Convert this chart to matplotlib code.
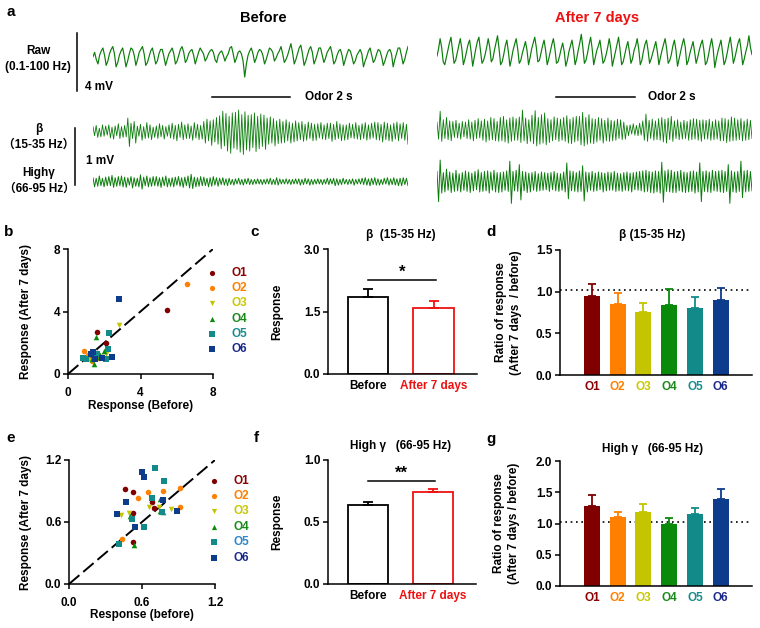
import numpy as np
import matplotlib
matplotlib.use("Agg")
import matplotlib.pyplot as plt
from matplotlib.transforms import blended_transform_factory

plt.rcParams['font.family'] = ['Liberation Sans', 'Noto Sans CJK SC', 'DejaVu Sans']
plt.rcParams['font.weight'] = 'bold'
plt.rcParams['axes.labelweight'] = 'bold'
plt.rcParams['axes.linewidth'] = 1.1

# ---------------- data ----------------
odors = ['O1', 'O2', 'O3', 'O4', 'O5', 'O6']
odor_colors = ['#800000', '#ff8000', '#c4c400', '#0a8a0a', '#138a8a', '#0d3c8c']
label_colors_b = ['#8b0000', '#ff8000', '#c8c800', '#1a8a1a', '#1a8c8c', '#1c2a8c']
label_colors_e = ['#8b0000', '#ff8000', '#c8c800', '#1a8a1a', '#2f86c9', '#1c2a8c']
odor_markers = ['o', 'o', 'v', '^', 's', 's']

# panel b: beta response, before vs after 7 days (one list per odor)
b_before = [[1.58, 2.12, 5.47, 1.6, 1.2, 1.9],
            [0.9, 6.54, 1.3, 1.1, 1.7, 1.45],
            [2.84, 1.75, 1.4, 1.2, 2.1, 1.0],
            [1.54, 1.45, 1.55, 2.0, 1.3, 1.75],
            [2.24, 2.22, 0.8, 1.0, 2.1, 1.6],
            [2.8, 2.41, 1.4, 1.5, 1.25, 1.9]]
b_after = [[2.69, 1.97, 4.1, 1.35, 1.0, 1.1],
           [1.45, 5.75, 0.85, 1.2, 1.05, 1.3],
           [3.16, 1.0, 1.1, 0.9, 1.25, 1.05],
           [2.39, 0.64, 1.1, 1.45, 0.95, 1.2],
           [2.63, 1.62, 1.0, 0.95, 0.95, 1.25],
           [4.79, 1.07, 1.4, 0.95, 1.25, 1.05]]

# panel e: high gamma response
e_before = [[0.461, 0.522, 0.679, 0.698, 0.527, 0.527],
            [0.65, 0.775, 0.912, 0.912, 0.569, 0.437],
            [0.659, 0.835, 0.494, 0.428, 0.74],
            [0.747, 0.775, 0.5, 0.532, 0.745],
            [0.706, 0.78, 0.679, 0.514, 0.618, 0.407, 0.761],
            [0.596, 0.615, 0.467, 0.395, 0.544, 0.885, 0.769]]
e_after = [[0.923, 0.894, 0.791, 0.739, 0.684, 0.41],
           [0.887, 0.9, 0.932, 0.745, 0.83, 0.44],
           [0.742, 0.723, 0.69, 0.665, 0.745],
           [0.82, 0.7, 0.658, 0.377, 0.71],
           [1.126, 1.0, 0.83, 0.626, 0.555, 0.39, 0.7],
           [1.081, 1.036, 0.79, 0.675, 0.549, 0.707, 0.813]]

groups = ['Before', 'After 7 days']
beta_mean = [1.86, 1.575]
beta_sem = [0.19, 0.185]
gamma_mean = [0.638, 0.743]
gamma_sem = [0.024, 0.024]

beta_ratio = [0.948, 0.852, 0.76, 0.836, 0.808, 0.896]
beta_ratio_sem = [0.14, 0.136, 0.104, 0.196, 0.132, 0.152]
gamma_ratio = [1.28, 1.099, 1.179, 0.997, 1.157, 1.387]
gamma_ratio_sem = [0.17, 0.085, 0.133, 0.096, 0.091, 0.16]

# example traces, 8 s each
raw_before = [  # 0.1 mV units
    0, 3, -2, -5, 1, 4, 6, 1, -6, -3, 2, 5, 7, 2, -7, -4, 1, 4, 6, 0, -7, -3, 2, 6,
    5, 1, -6, -2, 3, 5, 7, 2, -6, -4, 0, 4, 6, 1, -5, -3, 2, 5, 5, 0, -6, -2, 2, 4,
    6, 2, -5, -3, 1, 5, 7, 3, -4, -2, 2, 4, 5, 1, -5, -1, 3, 6, 4, 2, -3, -1, 2, 4,
    5, 3, -2, -4, 1, 3, 4, 1, -3, 0, 2, 6, 7, 2, -4, -1, 3, 4, 2, -3, -14, -5, 1, 4,
    6, 2, -4, -1, 3, 5, 4, 1, -5, -2, 2, 6, 5, 3, -3, -1, 2, 4, 7, 2, -4, -2, 1, 5,
    9, 3, -5, -2, 2, 6, 8, 2, -6, -3, 1, 5, 7, 3, -5, -2, 2, 6, 6, 1, -4, -1, 3, 5,
    7, 2, -5, -3, 1, 4, 5, 1, -6, -2, 2, 5, 4, 0, -5, -3, 1, 3, 5, 2, -7, -3, 0, 4,
    6, 1, -4, -2, 2, 5, 4, 0, -6, -3, 1, 4, 5, 2, -7, -2, 2, 6, 6, 1, -5, -2, 3, 7]
raw_after = [  # 0.1 mV units
    -3, 2, 9, 3, -7, -9, -4, 1, 6, 10, 1, -8, -6, -1, 4, 9, 2, -9, -5, 0, 5, 8, 0, -10,
    -4, 2, 7, 10, 1, -8, -6, -2, 3, 9, 3, -7, -5, 1, 6, 11, 2, -9, -7, -2, 4, 8, 0, -10,
    -5, 1, 5, 9, 2, -8, -6, -1, 3, 7, 1, -9, -4, 2, 6, 10, 3, -7, -6, -1, 4, 8, 1, -9,
    -5, 0, 5, 9, 2, -8, -7, -3, 2, 6, 0, -10, -6, 0, 4, 8, 1, -9, -5, 1, 6, 12, 3, -8,
    -6, -1, 5, 10, 2, -9, -4, 1, 4, 8, 0, -8, -6, -2, 3, 9, 2, -10, -5, 0, 5, 10, 1, -9,
    -7, -2, 3, 7, 0, -8, -5, 1, 4, 9, 2, -9, -6, 0, 5, 8, 1, -8, -5, -1, 3, 7, 0, -9,
    -4, 1, 5, 9, 2, -8, -6, -2, 4, 8, 1, -10, -5, 0, 5, 9, 3, -9, -6, -1, 3, 7, 0, -8,
    -4, 1, 5, 8, 1, -9, -7, -2, 4, 9, 2, -11, -5, 0, 4, 8, 0, -9, -6, -1, 5, 10, 2, -8,
    -4, 1, 6, 9, 1, -9, -5, 0, 4, 11, 3, -2]
beta_before = [  # 0.01 mV units
    9, -7, 11, -10, 6, -9, 12, -8, 10, -6, 12, -11, 8, -13, 10, -7, 14, -12, 9, -10,
    11, -9, 24, -26, 15, -12, 18, -20, 10, -8, 13, -15, 9, -12, 16, -11, 12, -14, 8, -10,
    10, -12, 14, -9, 11, -13, 9, -8, 12, -11, 15, -13, 11, -16, 13, -10, 17, -14, 12, -12,
    14, -12, 10, -15, 16, -11, 13, -14, 11, -13, 18, -20, 22, -16, 19, -24, 21, -18, 25, -22,
    28, -30, 36, -25, 32, -34, 27, -38, 33, -29, 34, -31, 38, -36, 30, -40, 35, -32, 29, -34,
    30, -28, 33, -35, 27, -30, 31, -26, 29, -31, 24, -22, 26, -20, 23, -25, 19, -21, 22, -20,
    18, -19, 21, -16, 17, -20, 15, -18, 19, -16, 16, -14, 18, -17, 13, -15, 17, -12, 15, -16,
    13, -15, 14, -11, 16, -13, 12, -14, 15, -12, 15, -17, 13, -14, 18, -12, 14, -16, 12, -15,
    12, -14, 15, -11, 13, -12, 16, -13, 11, -14, 14, -12, 16, -15, 12, -13, 15, -11, 17, -14,
    16, -15, 13, -18, 17, -14, 15, -16, 12, -17, 15, -13, 17, -16, 14, -12, 16, -15, 13, -22]
beta_after = [  # 0.01 mV units
    14, -16, 33, -20, 18, -15, 22, -17, 16, -19, 15, -13, 17, -14, 12, -16, 15, -12, 14, -15,
    18, -16, 14, -19, 17, -15, 20, -14, 16, -18, 19, -21, 16, -18, 22, -17, 20, -19, 15, -20,
    22, -19, 24, -21, 18, -23, 21, -20, 23, -18, 20, -18, 23, -22, 35, -19, 21, -24, 18, -20,
    26, -24, 34, -28, 22, -25, 27, -23, 30, -26, 20, -22, 18, -19, 23, -17, 21, -20, 19, -18,
    22, -20, 25, -23, 19, -24, 22, -21, 24, -19, 24, -26, 31, -28, 22, -25, 27, -23, 20, -24,
    19, -21, 22, -18, 20, -23, 17, -19, 21, -20, 17, -19, 16, -18, 19, -15, 18, -17, 14, -16,
    8, -10, 9, -7, 11, -9, 8, -10, 12, -9, 16, -18, 28, -20, 17, -15, 19, -18, 16, -17,
    20, -18, 22, -21, 19, -23, 21, -17, 24, -20, 16, -15, 18, -17, 14, -16, 17, -15, 15, -18,
    18, -17, 20, -16, 19, -18, 17, -20, 18, -16, 17, -16, 19, -18, 15, -17, 18, -16, 16, -19,
    21, -19, 20, -22, 18, -20, 23, -19, 21, -18, 18, -17, 20, -19, 16, -18, 19, -17, 17, -15]
gamma_before = [  # 0.01 mV units
    7, -9, 6, -8, 10, -7, 6, -9, 8, -7, 9, -7, 11, -10, 7, -8, 9, -7, 10, -9,
    8, -10, 7, -6, 9, -11, 7, -8, 6, -9, 12, -13, 8, -7, 10, -9, 7, -8, 9, -7,
    9, -8, 7, -10, 8, -7, 10, -9, 6, -8, 7, -9, 8, -6, 9, -8, 7, -10, 8, -7,
    10, -11, 13, -12, 8, -9, 7, -8, 9, -7, 8, -7, 6, -9, 7, -8, 9, -6, 7, -8,
    6, -5, 7, -6, 5, -7, 6, -5, 4, -6, 5, -4, 6, -5, 4, -6, 5, -4, 6, -5,
    4, -5, 4, -4, 5, -4, 4, -5, 4, -4, 5, -4, 6, -5, 4, -5, 7, -6, 5, -4,
    4, -4, 5, -4, 4, -5, 4, -4, 5, -4, 5, -6, 4, -5, 6, -4, 5, -6, 4, -5,
    4, -4, 5, -4, 4, -5, 4, -4, 6, -5, 5, -4, 6, -7, 5, -6, 4, -5, 6, -4,
    4, -5, 4, -4, 5, -6, 4, -4, 5, -4, 6, -5, 7, -6, 5, -7, 6, -5, 7, -6,
    5, -6, 4, -5, 6, -4, 7, -6, 5, -5, 7, -6, 5, -7, 6, -7, 7, -5, 6, -7]
gamma_after = [  # 0.01 mV units
    18, -35, 38, -20, 16, -18, 22, -15, 17, -19, 15, -17, 20, -16, 14, -18, 16, -15, 19, -17,
    17, -19, 15, -16, 18, -14, 21, -18, 16, -17, 18, -16, 19, -20, 17, -15, 20, -18, 16, -19,
    16, -18, 17, -15, 19, -17, 36, -38, 18, -16, 20, -17, 30, -32, 18, -16, 17, -19, 15, -18,
    16, -15, 18, -17, 14, -16, 17, -15, 16, -14, 15, -17, 16, -14, 18, -16, 15, -17, 14, -15,
    17, -18, 33, -30, 19, -16, 18, -17, 16, -18, 19, -17, 28, -34, 17, -18, 16, -15, 18, -17,
    15, -16, 17, -14, 16, -18, 15, -16, 17, -15, 16, -15, 18, -17, 15, -16, 14, -17, 16, -15,
    17, -16, 15, -18, 16, -14, 17, -15, 18, -16, 19, -18, 20, -17, 18, -19, 17, -20, 19, -18,
    18, -20, 34, -36, 19, -17, 21, -18, 20, -19, 17, -19, 18, -16, 20, -18, 17, -19, 16, -18,
    18, -17, 19, -20, 17, -18, 33, -35, 18, -17, 19, -18, 17, -19, 20, -16, 18, -17, 19, -18,
    20, -19, 18, -17, 30, -38, 19, -18, 17, -19, 18, -17, 36, -28, 19, -18, 20, -17, 18, -16]

trace_seconds = 8.0
trace_green = '#0b7d0b'
W, H = 760, 628

fig = plt.figure(figsize=(W / 100, H / 100), dpi=100)


def px_axes(left, top, right, bottom):
    return fig.add_axes([left / W, 1 - bottom / H, (right - left) / W, (bottom - top) / H])


def ftext(x, y, s, **kw):
    kw.setdefault('fontweight', 'bold')
    fig.text(x / W, 1 - y / H, s, **kw)


# ---------------- panel a: traces ----------------
ftext(11, 12, 'a', fontsize=11, ha='center', va='center')
ftext(263, 18, 'Before', fontsize=10.5, ha='center', va='center')
ftext(597, 18, 'After 7 days', fontsize=10.5, ha='center', va='center', color='#ee1111')
ftext(38, 59, 'Raw\n(0.1-100 Hz)', fontsize=8.5, ha='center', va='center',
      multialignment='center', linespacing=1.45)
ftext(39, 137, 'β\n（15-35 Hz）', fontsize=8.5, ha='center', va='center',
      multialignment='center', linespacing=1.45)
ftext(39, 181, 'Highγ\n（66-95 Hz）', fontsize=8.5, ha='center', va='center',
      multialignment='center', linespacing=1.45)

trace_specs = [
    (raw_before, 0.1, (93, 56.7, 408), 2.0, 0.85),
    (raw_after, 0.1, (437, 51.7, 752), 2.0, 0.85),
    (beta_before, 0.01, (93, 131.7, 408), 0.5, 0.6),
    (beta_after, 0.01, (437, 130, 752), 0.5, 0.6),
    (gamma_before, 0.01, (93, 181.7, 408), 0.5, 0.7),
    (gamma_after, 0.01, (437, 181.7, 752), 0.5, 0.7),
]
trace_axes = []
for values, unit, (x0, yc, x1), half, lw in trace_specs:
    half_px = 29 if half == 2.0 else 28.5
    ax = px_axes(x0, yc - half_px, x1, yc + half_px)
    v = np.array(values) * unit
    t = np.linspace(0, trace_seconds, len(v))
    ax.plot(t, v, color=trace_green, lw=lw)
    ax.set_xlim(0, trace_seconds)
    ax.set_ylim(-half, half)
    ax.axis('off')
    trace_axes.append(ax)

ax_rb, ax_ra, ax_bb = trace_axes[0], trace_axes[1], trace_axes[2]
# scale bars
ax_rb.plot([-0.4, -0.4], [-2.37, 1.63], color='black', lw=1.1, clip_on=False)
ax_rb.text(-0.2, -2.09, '4 mV', fontsize=8.5, fontweight='bold', ha='left', va='center')
ax_bb.plot([-0.457, -0.457], [0.06, -0.935], color='black', lw=1.1, clip_on=False)
ax_bb.text(-0.18, -0.52, '1 mV', fontsize=8.5, fontweight='bold', ha='left', va='center')
# odor bars
for ax, x_end, x_txt in [(ax_rb, 5.0, 5.38), (ax_ra, 5.03, 5.36)]:
    tr = blended_transform_factory(ax.transData, fig.transFigure)
    yb = 1 - 96.7 / H
    ax.plot([3.02, x_end], [yb, yb], color='black', lw=1.1, transform=tr, clip_on=False)
    ax.text(x_txt, yb, 'Odor 2 s', transform=tr, fontsize=8.5, fontweight='bold',
            ha='left', va='center')


def style_axes(ax):
    for side in ['top', 'right']:
        ax.spines[side].set_visible(False)
    ax.tick_params(direction='out', length=3.5, width=1.1, labelsize=8.5, pad=2)
    for lbl in ax.get_xticklabels() + ax.get_yticklabels():
        lbl.set_fontweight('bold')


# ---------------- scatter panels b, e ----------------
def scatter_panel(ax, xs, ys, lim, ticks, ticklabels, xlabel, label_colors, leg_y0, leg_dy):
    ax.plot([0, lim], [0, lim], color='black', lw=1.4, linestyle=(0, (7, 2.6)), zorder=1)
    for i in range(len(odors)):
        ax.scatter(xs[i], ys[i], s=16, marker=odor_markers[i], color=odor_colors[i],
                   linewidths=0, zorder=3, clip_on=False)
        yl = leg_y0 - i * leg_dy
        ax.scatter([0.995], [yl], s=14, marker=odor_markers[i], color=odor_colors[i],
                   linewidths=0, transform=ax.transAxes, clip_on=False)
        ax.text(1.13, yl, odors[i], transform=ax.transAxes, fontsize=8.5,
                fontweight='bold', color=label_colors[i], ha='left', va='center')
    ax.set_xlim(0, lim)
    ax.set_ylim(0, lim)
    ax.set_xticks(ticks)
    ax.set_yticks(ticks)
    ax.set_xticklabels(ticklabels)
    ax.set_yticklabels(ticklabels)
    ax.set_xlabel(xlabel, fontsize=8.5)
    ax.set_ylabel('Response (After 7 days)', fontsize=8.5)
    style_axes(ax)
    ax.tick_params(axis='x', pad=6)


ax_b = px_axes(68, 249, 213, 374)
scatter_panel(ax_b, b_before, b_after, 8, [0, 4, 8], ['0', '4', '8'], 'Response (Before)',
              label_colors_b, 0.81, 0.1224)
ax_b.xaxis.set_label_coords(0.5, -0.255)
ax_b.xaxis.label.set_va('center')
ax_b.yaxis.set_label_coords(-0.25, 0.5)
ftext(9, 232, 'b', fontsize=11, ha='center', va='center')

ax_e = px_axes(69, 460, 215, 584)
scatter_panel(ax_e, e_before, e_after, 1.2, [0, 0.6, 1.2], ['0.0', '0.6', '1.2'],
              'Response (before)', label_colors_e, 0.833, 0.124)
ax_e.xaxis.set_label_coords(0.5, -0.25)
ax_e.xaxis.label.set_va('center')
ax_e.yaxis.set_label_coords(-0.255, 0.5)
ftext(11, 438, 'e', fontsize=11, ha='center', va='center')


# ---------------- bar panels c, f ----------------
def group_bars(ax, means, sems, ymax, ticks, ticklabels, title, sig_y, stars):
    edge = ['black', '#ee1111']
    x = np.arange(len(groups))
    for i in range(len(groups)):
        ax.bar(x[i], means[i], width=0.62, facecolor='white', edgecolor=edge[i], linewidth=1.3)
        ax.errorbar(x[i], means[i], yerr=[[0], [sems[i]]], color=edge[i], capsize=3.5,
                    elinewidth=1.3, capthick=1.3)
    ax.plot([0, 1.03], [sig_y, sig_y], color='black', lw=1.1)
    ax.text(0.52, sig_y, stars, fontsize=12, fontweight='bold', ha='center', va='bottom')
    ax.set_xlim(-0.61, 1.66)
    ax.set_ylim(0, ymax)
    ax.set_yticks(ticks)
    ax.set_yticklabels(ticklabels)
    ax.set_xticks(x)
    ax.set_xticklabels(groups)
    style_axes(ax)
    ax.tick_params(axis='x', length=0, pad=4)
    ax.get_xticklabels()[1].set_color('#ee1111')
    ax.set_ylabel('Response', fontsize=8.5)
    ax.yaxis.set_label_coords(-0.30, 0.5)
    ax.text(0.49, 1.11, title, transform=ax.transAxes, fontsize=8.5, fontweight='bold',
            ha='center', va='center')


ax_c = px_axes(328, 249, 477, 374)
group_bars(ax_c, beta_mean, beta_sem, 3.0, [0, 1.5, 3.0], ['0.0', '1.5', '3.0'],
           'β  (15-35 Hz)', 2.25, '*')
ftext(255, 232, 'c', fontsize=11, ha='center', va='center')

ax_f = px_axes(328, 460, 476, 584)
group_bars(ax_f, gamma_mean, gamma_sem, 1.0, [0, 0.5, 1.0], ['0.0', '0.5', '1.0'],
           'High γ   (66-95 Hz)', 0.83, '**')
ftext(256, 438, 'f', fontsize=11, ha='center', va='center')


# ---------------- ratio panels d, g ----------------
def ratio_bars(ax, vals, sems, ymax, ticks, ticklabels, title, title_y, ylab, lab_x):
    x = np.arange(len(odors))
    for i in range(len(odors)):
        ax.bar(x[i], vals[i], width=0.62, color=odor_colors[i])
        ax.errorbar(x[i], vals[i], yerr=[[0], [sems[i]]], color=odor_colors[i], capsize=3,
                    elinewidth=1.3, capthick=1.3)
    ax.axhline(1.02, color='black', lw=1.2, linestyle=(0, (1, 2.2)), zorder=0)
    ax.set_xlim(-1.245, 6.22)
    ax.set_ylim(0, ymax)
    ax.set_yticks(ticks)
    ax.set_yticklabels(ticklabels)
    ax.set_xticks(x)
    ax.set_xticklabels(odors)
    style_axes(ax)
    ax.tick_params(axis='x', length=0, pad=4)
    for lbl, c in zip(ax.get_xticklabels(), label_colors_b):
        lbl.set_color(c)
    ax.set_ylabel(ylab, fontsize=8.5, linespacing=1.25)
    ax.yaxis.set_label_coords(lab_x, 0.5)
    ax.text(0.48, title_y, title, transform=ax.transAxes, fontsize=8.5, fontweight='bold',
            ha='center', va='center')


ax_d = px_axes(560, 250, 752, 375)
ratio_bars(ax_d, beta_ratio, beta_ratio_sem, 1.5, [0, 0.5, 1.0, 1.5],
           ['0.0', '0.5', '1.0', '1.5'], 'β (15-35 Hz)', 1.12,
           'Ratio of response\n(After 7 days  / before)', -0.20)
ftext(491, 232, 'd', fontsize=11, ha='center', va='center')

ax_g = px_axes(560, 461, 752, 586)
ratio_bars(ax_g, gamma_ratio, gamma_ratio_sem, 2.0, [0, 0.5, 1.0, 1.5, 2.0],
           ['0.0', '0.5', '1.0', '1.5', '2.0'], 'High γ   (66-95 Hz)', 1.096,
           'Ratio of response\n(After 7 days / before)', -0.21)
ftext(491, 439, 'g', fontsize=11, ha='center', va='center')

fig.savefig('out.png', dpi=100)
